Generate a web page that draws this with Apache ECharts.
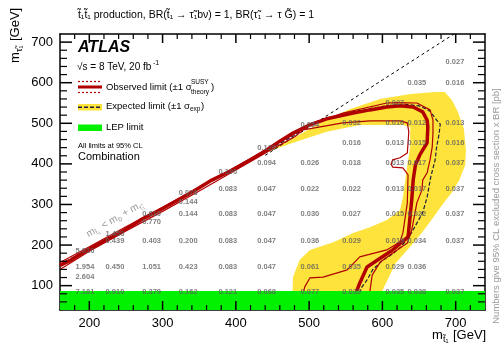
<!DOCTYPE html>
<html>
<head>
<meta charset="utf-8">
<script src="https://cdn.jsdelivr.net/npm/echarts@6.0.0/dist/echarts.min.js"></script>
<style>
  html, body { margin: 0; padding: 0; background: #fff; }
  #chart { width: 503px; height: 347px; }
</style>
</head>
<body>
<div id="chart"></div>
<script>
// axis ticks (GeV)
var xMajor = [200, 300, 400, 500, 600, 700];
var xMinor = [180, 220, 240, 260, 280, 320, 340, 360, 380, 420, 440, 460, 480, 520, 540, 560, 580, 620, 640, 660, 680, 720];
var yMajor = [100, 200, 300, 400, 500, 600, 700];
var yMinor = [60, 80, 120, 140, 160, 180, 220, 240, 260, 280, 320, 340, 360, 380, 420, 440, 460, 480, 520, 540, 560, 580, 620, 640, 660, 680];

// LEP limit on the stau mass
var lepLimit = 87;

// kinematic boundary (visible part)
var kinLine = [[440, 421], [702, 725]];

// observed limit (m_stop, m_stau)
var obsLimit = [[160, 150], [175, 163], [190, 180], [215, 205], [240, 228], [270, 262], [295, 285], [315, 305],
  [340, 330], [365, 358], [390, 380], [420, 410], [440, 432], [460, 456], [478, 476], [501, 496], [524, 511],
  [560, 525], [583, 533], [606, 540], [624, 543], [642, 540], [655, 528], [661, 508], [662, 491], [661, 452],
  [651, 422], [645, 397], [642, 360], [640, 311], [635, 220], [614, 188], [579, 146], [569, 106], [565, 87], [564, 60]];

// observed +1 sigma theory
var obsUp = [[160, 157], [200, 196], [250, 245], [300, 293], [350, 343], [400, 393], [450, 444], [475, 468],
  [500, 496], [546, 525], [606, 550], [620, 551], [647, 550], [665, 533], [669, 508], [669, 476], [668, 442],
  [665, 410], [661, 378], [655, 360], [654, 336], [647, 304], [640, 237], [634, 205], [620, 188], [597, 158],
  [586, 126], [583, 87], [582, 60]];

// observed -1 sigma theory
var obsDown = [[160, 140], [200, 185], [250, 235], [300, 283], [350, 333], [400, 385], [450, 437], [480, 466],
  [492, 484], [546, 501], [583, 506], [624, 506], [634, 501], [636, 479], [635, 452], [634, 427], [624, 415],
  [614, 410], [612, 400], [614, 392], [628, 390], [635, 373], [634, 304], [628, 230], [624, 208], [606, 188],
  [569, 171], [552, 139], [519, 121], [501, 119], [494, 97], [490, 65]];

// expected limit
var expLimit = [[160, 152], [200, 192], [250, 241], [300, 290], [350, 340], [400, 390], [450, 441], [480, 470],
  [501, 499], [524, 513], [560, 528], [583, 536], [606, 543], [630, 547], [650, 543], [665, 530], [674, 508],
  [679, 498], [677, 470], [674, 442], [672, 410], [666, 368], [661, 318], [655, 280], [647, 254], [638, 225],
  [625, 195], [614, 178], [600, 162], [587, 140], [579, 114], [571, 94], [568, 70]];

// expected +-1 sigma band outline
var expBand = [[444, 434], [474, 459], [515, 501], [556, 535], [597, 560], [638, 572], [672, 577], [685, 577],
  [695, 557], [703, 528], [711, 488], [714, 434], [713, 397], [705, 360], [695, 330], [682, 300], [670, 270],
  [660, 245], [650, 222], [640, 200], [630, 180], [618, 155], [610, 125], [603, 100], [600, 87], [598, 60],
  [477, 60], [477, 65], [478, 121], [487, 163], [501, 188], [533, 207], [560, 230], [583, 244], [606, 262],
  [624, 286], [628, 318], [633, 385], [638, 442], [638, 491], [628, 496], [606, 496], [569, 496], [524, 479],
  [478, 452], [444, 430]];

// excluded cross section x BR [pb] at grid points
var xsecCells = [
  [194, 84, "7.181"], [235, 84, "0.910"], [285, 84, "0.379"], [335, 84, "0.162"], [389, 84, "0.121"], [442, 84, "0.068"],
  [501, 84, "0.077"], [558, 84, "0.039"], [617, 84, "0.035"], [647, 84, "0.038"], [699, 84, "0.037"],
  [194, 121, "2.604"],
  [194, 146, "1.954"], [235, 146, "0.450"], [285, 146, "1.051"], [335, 146, "0.423"], [389, 146, "0.083"], [442, 146, "0.047"],
  [501, 146, "0.061"], [558, 146, "0.035"], [617, 146, "0.029"], [647, 146, "0.036"],
  [194, 186, "5.010"],
  [235, 210, "0.439"], [285, 210, "0.403"], [335, 210, "0.200"], [389, 210, "0.083"], [442, 210, "0.047"],
  [501, 210, "0.036"], [558, 210, "0.029"], [617, 210, "0.019"], [647, 210, "0.034"], [699, 210, "0.037"],
  [235, 228, "1.450"],
  [285, 256, "0.770"],
  [285, 277, "0.610"], [335, 277, "0.144"], [389, 277, "0.083"], [442, 277, "0.047"],
  [501, 277, "0.030"], [558, 277, "0.027"], [617, 277, "0.015"], [647, 277, "0.022"], [699, 277, "0.037"],
  [335, 307, "0.144"],
  [335, 329, "0.076"],
  [389, 339, "0.083"], [442, 339, "0.047"], [501, 339, "0.022"], [558, 339, "0.022"], [617, 339, "0.013"],
  [647, 339, "0.017"], [699, 339, "0.037"],
  [389, 381, "0.190"],
  [442, 403, "0.094"], [501, 403, "0.026"], [558, 403, "0.018"], [617, 403, "0.013"], [647, 403, "0.017"], [699, 403, "0.037"],
  [442, 440, "0.120"],
  [558, 452, "0.016"], [617, 452, "0.013"], [647, 452, "0.015"], [699, 452, "0.016"],
  [501, 496, "0.054"], [558, 502, "0.032"], [617, 502, "0.016"], [647, 502, "0.012"], [699, 502, "0.013"],
  [617, 551, "0.027"],
  [647, 600, "0.035"], [699, 600, "0.016"],
  [699, 652, "0.027"]
];

var FONT = "Liberation Sans, Arial, Helvetica, sans-serif";
var RED = "#b00000";
var YELLOW = "#fde33b";
var GREEN = "#00f000";

var X_MIN = 160, X_MAX = 740, Y_MIN = 40, Y_MAX = 720;

function axisDef(pos, min, max, labels, ticks) {
    return {
        type: "value", position: pos, min: min, max: max,
        axisLine: { show: true, onZero: false, lineStyle: { color: "#000", width: 1.5 } },
        axisTick: { show: false },
        axisLabel: labels ? { show: true, customValues: ticks, fontFamily: FONT, fontSize: 13, color: "#000", margin: 7 } : { show: false },
        splitLine: { show: false }
    };
}

function polygon(points, color, z) {
    return {
        type: "custom", xAxisIndex: 0, yAxisIndex: 0, z: z, silent: true, clip: true,
        data: [0],
        renderItem: function (params, api) {
            var pts = points.map(function (p) { return api.coord(p); });
            return { type: "polygon", shape: { points: pts }, style: { fill: color } };
        }
    };
}

function curve(data, color, width, type, z) {
    return {
        type: "line", data: data, xAxisIndex: 0, yAxisIndex: 0, symbol: "none", showSymbol: false,
        silent: true, clip: true, z: z,
        lineStyle: { color: color, width: width, type: type }
    };
}

// inward ticks on all four sides of the frame
function tickMarks() {
    return {
        type: "custom", xAxisIndex: 0, yAxisIndex: 0, z: 20, silent: true, clip: false,
        data: [0],
        renderItem: function (params, api) {
            var kids = [];
            function seg(x1, y1, x2, y2, w) {
                kids.push({ type: "line", shape: { x1: x1, y1: y1, x2: x2, y2: y2 }, style: { stroke: "#000", lineWidth: w } });
            }
            function xt(vals, len, w) {
                vals.forEach(function (v) {
                    var b = api.coord([v, Y_MIN]), t = api.coord([v, Y_MAX]);
                    seg(b[0], b[1], b[0], b[1] - len, w);
                    seg(t[0], t[1], t[0], t[1] + len, w);
                });
            }
            function yt(vals, len, w) {
                vals.forEach(function (v) {
                    var l = api.coord([X_MIN, v]), r = api.coord([X_MAX, v]);
                    seg(l[0], l[1], l[0] + len, l[1], w);
                    seg(r[0], r[1], r[0] - len, r[1], w);
                });
            }
            xt(xMajor, 9, 1.5);
            xt(xMinor, 5, 1.2);
            yt(yMajor, 12, 1.5);
            yt(yMinor, 7, 1.2);
            return { type: "group", children: kids };
        }
    };
}

function txt(x, y, s, size, opts) {
    opts = opts || {};
    return {
        type: "text", x: x, y: y, z: 100,
        style: {
            text: s, font: (opts.weight || "normal") + " " + size + "px " + FONT,
            fill: opts.color || "#000", textAlign: opts.align || "left", textVerticalAlign: "middle"
        }
    };
}

const chart = echarts.init(document.getElementById("chart"));

const option = {
    animation: false,
    grid: { left: 60, right: 18, top: 34, bottom: 37 },
    xAxis: [
        axisDef("bottom", X_MIN, X_MAX, true, xMajor),
        axisDef("top", X_MIN, X_MAX, false, xMajor)
    ],
    yAxis: [
        axisDef("left", Y_MIN, Y_MAX, true, yMajor),
        axisDef("right", Y_MIN, Y_MAX, false, yMajor)
    ],
    series: [
        polygon(expBand, YELLOW, 1),
        curve(kinLine, "#000", 1, [3, 3], 2),
        curve(expLimit, "#1f1f3a", 1.2, [4, 2], 3),
        curve(obsUp, RED, 1.2, "solid", 4),
        curve(obsDown, RED, 1.2, "solid", 4),
        curve(obsLimit, RED, 3.5, "solid", 5),
        polygon([[X_MIN, Y_MIN], [X_MAX, Y_MIN], [X_MAX, lepLimit], [X_MIN, lepLimit]], GREEN, 6),
        {
            type: "scatter", data: xsecCells, symbolSize: 1, z: 8, silent: true,
            itemStyle: { color: "rgba(0,0,0,0)" },
            label: {
                show: true, position: "inside", formatter: function (p) { return p.data[2]; },
                fontFamily: FONT, fontSize: 7.5, fontWeight: "bold", color: "#606060"
            }
        },
        tickMarks()
    ],
    graphic: [
        // title
        txt(196, 15, "t\u0303\u2081t\u0303\u2081 production, BR(t\u0303\u2081 \u2192 \u03c4\u0303\u2081b\u03bd) = 1, BR(\u03c4\u0303\u2081 \u2192 \u03c4 G\u0303) = 1", 10.5, { align: "center" }),
        // ATLAS block
        txt(78, 48, "ATLAS", 16, { weight: "italic bold" }),
        txt(77, 67, "\u221as = 8 TeV, 20 fb", 10),
        txt(153, 63, "-1", 7),
        // legend: observed
        { type: "line", z: 100, shape: { x1: 78, y1: 87, x2: 102, y2: 87 }, style: { stroke: RED, lineWidth: 3 } },
        { type: "line", z: 100, shape: { x1: 78, y1: 81.5, x2: 102, y2: 81.5 }, style: { stroke: RED, lineWidth: 1.2, lineDash: [2, 2] } },
        { type: "line", z: 100, shape: { x1: 78, y1: 92.5, x2: 102, y2: 92.5 }, style: { stroke: RED, lineWidth: 1.2, lineDash: [2, 2] } },
        txt(106, 87, "Observed limit (\u00b11 \u03c3", 9.5),
        txt(191, 82, "SUSY", 6.5),
        txt(191, 92, "theory", 6.5),
        txt(211, 87, ")", 9.5),
        // legend: expected
        { type: "rect", z: 100, shape: { x: 78, y: 104, width: 24, height: 6.5 }, style: { fill: YELLOW } },
        { type: "line", z: 101, shape: { x1: 78, y1: 107.2, x2: 102, y2: 107.2 }, style: { stroke: "#1f1f3a", lineWidth: 1.5, lineDash: [4, 2] } },
        txt(106, 106, "Expected limit (\u00b11 \u03c3", 9.5),
        txt(190, 109, "exp", 6.5),
        txt(201, 106, ")", 9.5),
        // legend: LEP
        { type: "rect", z: 100, shape: { x: 78, y: 124.5, width: 24, height: 6.5 }, style: { fill: GREEN } },
        txt(106, 127, "LEP limit", 9.5),
        txt(78, 146, "All limits at 95% CL", 7.5),
        txt(78, 157, "Combination", 11),
        // kinematic label
        {
            type: "group", x: 115, y: 219, rotation: 0.515, z: 100,
            children: [
                txt(-32, 0, "m", 10, { color: "#999" }),
                txt(-23.5, 3, "t\u0303\u2081", 7, { color: "#999" }),
                txt(-17.5, 0, " < m", 10, { color: "#999" }),
                txt(2.5, 3, "b", 7, { color: "#999" }),
                txt(6.5, 0, " + m", 10, { color: "#999" }),
                txt(26.5, 3, "\u03c4\u0303\u2081", 7, { color: "#999" })
            ]
        },
        // x axis title
        txt(432, 335, "m", 13),
        txt(443, 340, "t\u0303\u2081", 9),
        txt(453, 335, "[GeV]", 13),
        // y axis title
        {
            type: "group", x: 15, y: 63, rotation: Math.PI / 2, z: 100,
            children: [
                txt(0, 0, "m", 13),
                txt(11, 5, "\u03c4\u0303\u2081", 9),
                txt(22, 0, "[GeV]", 13)
            ]
        },
        // right-hand note
        {
            type: "text", x: 496, y: 206, rotation: Math.PI / 2, z: 100,
            style: {
                text: "Numbers give 95% CL excluded cross section x BR [pb]",
                font: "9.5px " + FONT, fill: "#999", textAlign: "center", textVerticalAlign: "middle"
            }
        }
    ]
};

chart.setOption(option);
</script>
</body>
</html>
